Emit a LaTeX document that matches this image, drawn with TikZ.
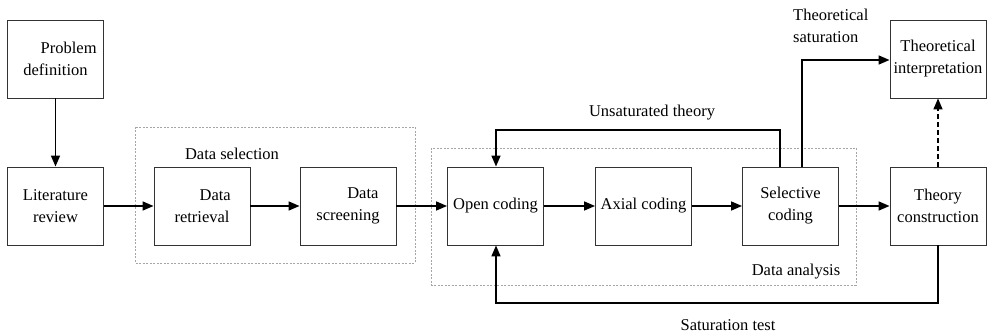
\documentclass[tikz,border=0pt]{standalone}
\usepackage{fontspec}
\setmainfont{Liberation Serif}
\usetikzlibrary{arrows.meta,calc}
\begin{document}
\begin{tikzpicture}[x=1pt,y=-1pt,
  font=\fontsize{16.5}{22}\selectfont,
  box/.style={draw=black!80,line width=0.9pt,minimum width=96pt,minimum height=78pt,inner sep=0pt,align=center},
  grp/.style={draw=black!35,line width=0.6pt,dash pattern=on 2pt off 1.5pt},
  arr/.style={line width=1.5pt,-{Triangle[length=11pt,width=9pt]}},
  lbl/.style={inner sep=0pt,align=left}]
\useasboundingbox (0,0) rectangle (996,336);
% groups
\draw[grp] (135,127) rectangle (415,263);
\draw[grp] (431,148) rectangle (856,285);
\node[lbl] (dsel) at (232,154) {Data selection};
\node[lbl] (dana) at (796,272) {Data analysis};
% boxes
\node[box] (pd) at (55.5,59) {\hspace*{1.6em}Problem\\definition};
\node[box] (lr) at (55.5,206) {Literature\\review};
\node[box] (dr) at (202,206) {\hspace*{1.6em}Data\\retrieval};
\node[box] (ds) at (348,206) {\hspace*{1.8em}Data\\screening};
\node[box] (oc) at (495.5,206) {Open coding};
\node[box] (ac) at (643.5,206) {Axial coding};
\node[box] (sc) at (790.5,206) {Selective\\coding};
\node[box] (tc) at (938,206) {Theory\\construction};
\node[box] (ti) at (938,59) {Theoretical\\interpretation};
% arrows
\draw[arr] (pd) -- (lr);
\draw[arr] (lr) -- (dr);
\draw[arr] (dr) -- (ds);
\draw[arr] (ds) -- (oc);
\draw[arr] (oc) -- (ac);
\draw[arr] (ac) -- (sc);
\draw[arr] (sc) -- (tc);
\draw[arr,dash pattern=on 5pt off 3pt] (tc) -- (ti);
\coordinate (u1) at (780,130);
\coordinate (u2) at (496,130);
\draw[arr] (sc.north -| u1) -- (u1) -- (u2) -- (oc.north -| u2);
\coordinate (t1) at (802,60);
\draw[arr] (sc.north -| t1) -- (t1) -- (ti.west |- t1);
\coordinate (s1) at (938,303);
\coordinate (s2) at (496,303);
\draw[arr] (tc.south -| s1) -- (s1) -- (s2) -- (oc.south -| s2);
% labels
\node[lbl] (lu) at (652,113) {Unsaturated theory};
\node[lbl,anchor=west] (lt) at (793,26) {Theoretical\\saturation};
\node[lbl] (ls) at (728,325) {Saturation test};
\end{tikzpicture}
\end{document}
